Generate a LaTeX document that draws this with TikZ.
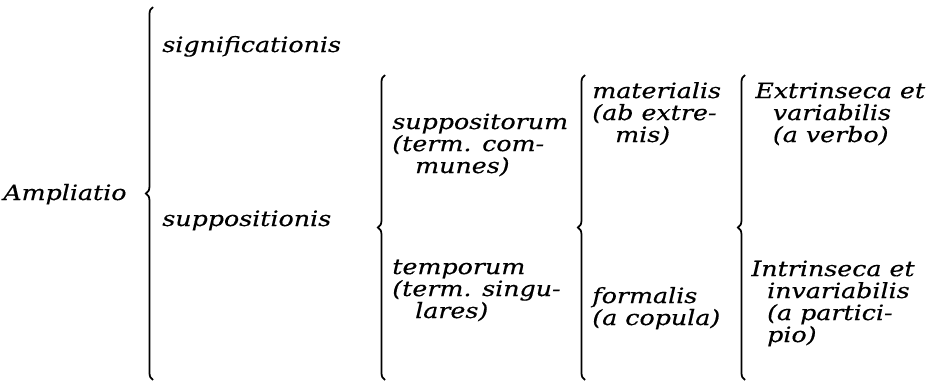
\documentclass[tikz,border=0pt]{standalone}
\usepackage{fontspec}
\setmainfont{DejaVu Serif}[FakeStretch=1.2, FakeBold=0.4]
\usetikzlibrary{decorations.pathreplacing}
\usetikzlibrary{positioning}

\begin{document}
\begin{tikzpicture}[x=0.02cm, y=-0.02cm,
            every node/.style={
            font=\itshape\fontsize{12}{12.5}\selectfont,
            inner sep=0pt,
            anchor=base west,
            align=left},
            curly/.style={decorate,
            decoration={brace, amplitude=4pt},
            line width=1pt}]
            \useasboundingbox (0,0) rectangle (933,382);
            % Textspalten (Anker = Grundlinie der letzten Zeile)
            \node (ampl) at (3,200) {Ampliatio};
            \node (signif) at (162,52) {significationis};
            \node (suppos) at (162,226) {suppositionis};
            \node (supptor) at (392,173) {suppositorum\\(term. com-\\\hspace*{13pt}munes)};
            \node (tempor) at (392,318) {temporum\\(term. singu-\\\hspace*{13pt}lares)};
            \node (mater) at (592,142) {materialis\\(ab extre-\\\hspace*{13pt}mis)};
            \node (formal) at (592,325) {formalis\\(a copula)};
            \node (extr) at (755,142) {Extrinseca et\\\hspace*{10pt}variabilis\\\hspace*{10pt}(a verbo)};
            \node (intr) at (751,342) {Intrinseca et\\\hspace*{9pt}invariabilis\\\hspace*{9pt}(a partici-\\\hspace*{9pt}pio)};
            % Klammern
            \coordinate (kl1t) at (153,7);
            \coordinate (kl1b) at (153,380);
            \coordinate (kl2t) at (385,75);
            \coordinate (kl2b) at (385,380);
            \coordinate (kl3t) at (585,75);
            \coordinate (kl3b) at (585,380);
            \coordinate (kl4t) at (745,75);
            \coordinate (kl4b) at (745,380);
            \draw[curly] (kl1b) -- (kl1t);
            \draw[curly] (kl2b) -- (kl2t);
            \draw[curly] (kl3b) -- (kl3t);
            \draw[curly] (kl4b) -- (kl4t);
        \end{tikzpicture}
\end{document}
